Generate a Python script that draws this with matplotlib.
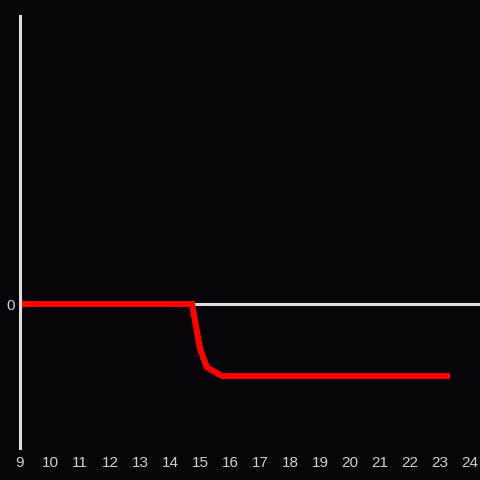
import matplotlib
matplotlib.use("Agg")
import matplotlib.pyplot as plt

# series (x in units, y in units with 0 baseline)
x_vals = [9, 14.73, 15.0, 15.23, 15.73, 23.33]
y_vals = [0, 0, -0.31, -0.44, -0.5, -0.5]
x_ticks = list(range(9, 25))

BG = "#060408"
AXIS = "#dddddd"
TEXT = "#d0d0d0"

plt.rcParams["font.family"] = ["Liberation Sans", "DejaVu Sans"]

fig = plt.figure(figsize=(4.8, 4.8), dpi=100, facecolor=BG)
ax = fig.add_axes([20 / 480, 32 / 480, 460 / 480, 432 / 480], facecolor=BG)

ax.axhline(0, color=AXIS, linewidth=2.2, zorder=1)
ax.plot(x_vals, y_vals, color="#ff0000", linewidth=4.4,
        solid_capstyle="butt", solid_joinstyle="miter", zorder=2)

ax.set_xlim(9, 24.33)
ax.set_ylim(-1, 2)
ax.set_xticks(x_ticks)
ax.set_xticklabels([str(t) for t in x_ticks])
ax.set_yticks([0])
ax.set_yticklabels(["0"])
ax.tick_params(axis="both", length=0, colors=TEXT, labelsize=11)
ax.tick_params(axis="x", pad=6)
ax.tick_params(axis="y", pad=4)

for side in ("top", "right", "bottom"):
    ax.spines[side].set_visible(False)
ax.spines["left"].set_color(AXIS)
ax.spines["left"].set_linewidth(2.2)

fig.savefig("out.png", dpi=100, facecolor=BG)
